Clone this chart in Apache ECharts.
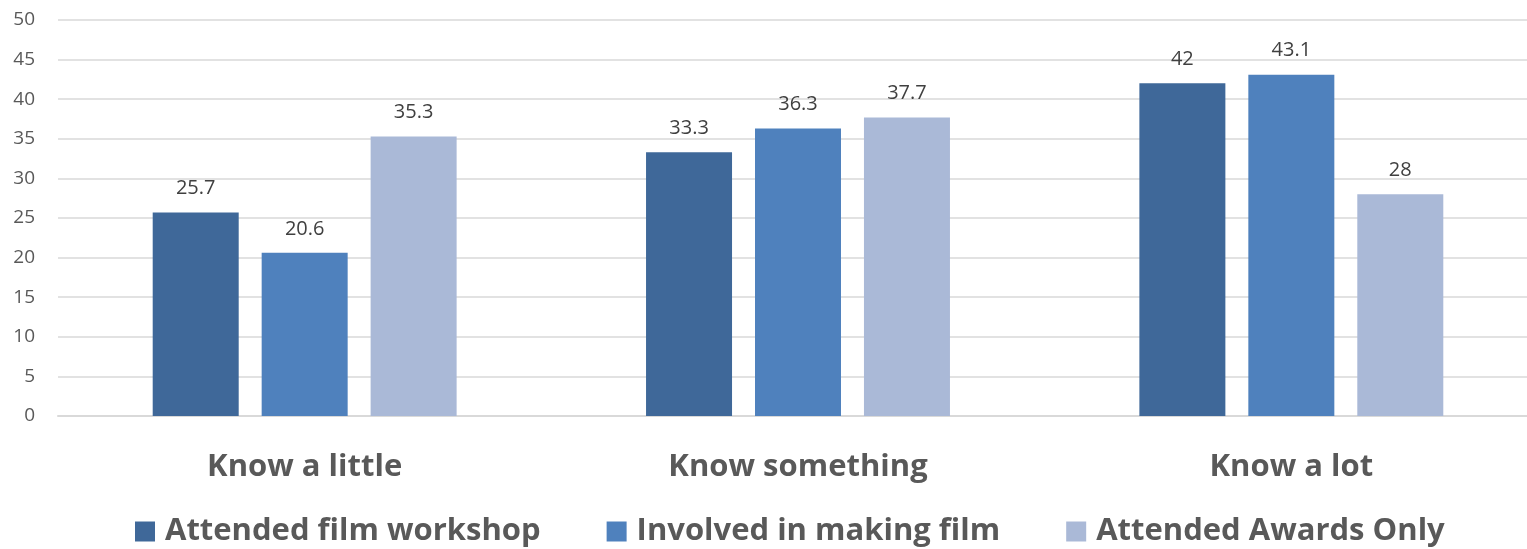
<!DOCTYPE html>
<html>
<head>
<meta charset="utf-8">
<title>Knowledge by participation</title>
<script src="https://cdn.jsdelivr.net/npm/echarts@6/dist/echarts.min.js"></script>
<style>
  html, body { margin: 0; padding: 0; background: #ffffff; overflow: hidden; }
  /* the plot runs a few pixels past the visible right edge */
  #chart { width: 1538px; height: 549px; }
</style>
</head>
<body>
<div id="chart"></div>
<script>
// Knowledge levels on the category axis
const categories = ['Know a little', 'Know something', 'Know a lot'];

// Percentages per participation group
const seriesNames = ['Attended film workshop', 'Involved in making film', 'Attended Awards Only'];
const workshop = [25.7, 33.3, 42];
const makingFilm = [20.6, 36.3, 43.1];
const awardsOnly = [35.3, 37.7, 28];

const colors = ['#3F6899', '#4F81BD', '#AAB9D7'];
const font = '"Open Sans", "Noto Sans", sans-serif';

const chart = echarts.init(document.getElementById('chart'), null, { renderer: 'canvas' });

function barSeries(name, data, color) {
  return {
    name: name,
    type: 'bar',
    data: data,
    barWidth: 86,
    barGap: '26.7%',
    itemStyle: { color: color },
    label: {
      show: true,
      position: 'top',
      distance: 14,
      color: '#404040',
      fontFamily: font,
      fontSize: 20
    }
  };
}

chart.setOption({
  animation: false,
  color: colors,
  grid: { left: 58, right: 0, top: 20, bottom: 133, containLabel: false },
  legend: {
    top: 516,
    left: 135,
    padding: 0,
    itemWidth: 20,
    itemHeight: 20,
    itemGap: 66,
    icon: 'rect',
    textStyle: {
      color: '#595959',
      fontFamily: font,
      fontSize: 31,
      fontWeight: 'bold',
      padding: [0, 0, 0, 5]
    },
    data: seriesNames
  },
  xAxis: {
    type: 'category',
    data: categories,
    axisLine: { show: true, lineStyle: { color: '#D9D9D9', width: 2 } },
    axisTick: { show: false },
    axisLabel: {
      color: '#595959',
      fontFamily: font,
      fontSize: 31,
      fontWeight: 'bold',
      margin: 36
    }
  },
  yAxis: {
    type: 'value',
    min: 0,
    max: 50,
    interval: 5,
    axisLine: { show: false },
    axisTick: { show: false },
    splitLine: { lineStyle: { color: '#D9D9D9', width: 1.5 } },
    axisLabel: { color: '#595959', fontFamily: font, fontSize: 19, margin: 23 }
  },
  series: [
    barSeries(seriesNames[0], workshop, colors[0]),
    barSeries(seriesNames[1], makingFilm, colors[1]),
    barSeries(seriesNames[2], awardsOnly, colors[2])
  ]
});
</script>
</body>
</html>
